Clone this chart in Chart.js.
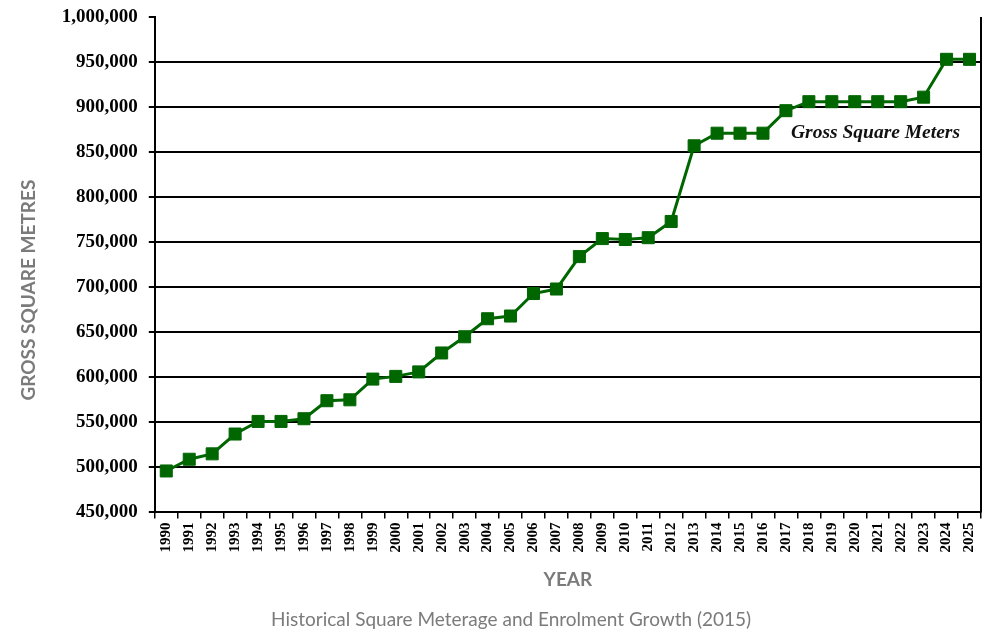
<!DOCTYPE html>
<html>
<head>
<meta charset="utf-8">
<script src="https://cdn.jsdelivr.net/npm/chart.js@4"></script>
<style>
  html, body { margin: 0; padding: 0; background: #fff; overflow: hidden; }
  #wrap { width: 986px; height: 631px; }
  canvas { display: block; }
</style>
</head>
<body>
<div id="wrap"><canvas id="mainChart" width="986" height="631"></canvas></div>
<script>
// Data
const years = [
  "1990", "1991", "1992", "1993", "1994", "1995", "1996", "1997", "1998", "1999",
  "2000", "2001", "2002", "2003", "2004", "2005", "2006", "2007", "2008", "2009",
  "2010", "2011", "2012", "2013", "2014", "2015", "2016", "2017", "2018", "2019",
  "2020", "2021", "2022", "2023", "2024", "2025"
];
const grossSquareMeters = [
  496000, 509000, 515000, 537000, 551000, 551000, 554000, 574000, 575000, 598000,
  601000, 606000, 627000, 645000, 665000, 668000, 693000, 698000, 734000, 754000,
  753000, 755000, 773000, 857000, 871000, 871000, 871000, 896000, 906000, 906000,
  906000, 906000, 906000, 911000, 953000, 953000
];
const seriesLabel = "Gross Square Meters";
const yTitle = "GROSS SQUARE METRES";
const xTitle = "YEAR";
const caption = "Historical Square Meterage and Enrolment Growth (2015)";

const green = "#006600";
const grey = "#7b7b7b";
const nb = (n) => "\u00a0".repeat(n); // nudges titles off-centre like the original

// right frame line + in-plot series label
const framePlugin = {
  id: "frame",
  afterDraw(chart) {
    const { ctx, chartArea } = chart;
    ctx.save();
    ctx.strokeStyle = "#000";
    ctx.lineWidth = 2;
    ctx.beginPath();
    ctx.moveTo(chartArea.right, chartArea.top);
    ctx.lineTo(chartArea.right, chartArea.bottom);
    ctx.stroke();

    ctx.fillStyle = "#111";
    ctx.font = "italic bold 19.5px 'Liberation Serif'";
    ctx.textAlign = "right";
    ctx.textBaseline = "middle";
    ctx.fillText(chart.data.datasets[0].label, chartArea.right - 21, chartArea.top + 116);
    ctx.restore();
  },
};

const config = {
  type: "line",
  data: {
    labels: years,
    datasets: [
      {
        label: seriesLabel,
        data: grossSquareMeters,
        borderColor: green,
        backgroundColor: green,
        borderWidth: 3,
        pointStyle: "rect",
        pointRadius: 8.5,
        pointBorderWidth: 1,
        pointBackgroundColor: green,
        pointBorderColor: green,
        tension: 0,
      },
    ],
  },
  options: {
    responsive: false,
    animation: false,
    layout: { autoPadding: false, padding: { top: 17, right: 5, left: 17, bottom: 0 } },
    plugins: {
      legend: { display: false },
      tooltip: { enabled: false },
      title: {
        display: true,
        position: "bottom",
        text: nb(5) + caption,
        color: grey,
        font: { family: "Lato", size: 19, weight: "normal" },
        padding: { top: 10, bottom: 0 },
      },
    },
    scales: {
      x: {
        offset: true,
        afterFit: (s) => {
          s.paddingRight = 0;
        },
        grid: {
          display: true,
          drawOnChartArea: false,
          offset: true,
          color: "#000",
          lineWidth: 1.5,
          tickLength: 6,
        },
        border: { color: "#000", width: 2 },
        ticks: {
          color: "#000",
          font: { family: "Liberation Serif", size: 15, weight: "bold" },
          maxRotation: 90,
          minRotation: 90,
          autoSkip: false,
          padding: 4,
        },
        title: {
          display: true,
          text: xTitle,
          color: grey,
          font: { family: "Lato", size: 19, weight: "bold" },
          padding: { top: 12, bottom: 7 },
        },
      },
      y: {
        min: 450000,
        max: 1000000,
        afterFit: (s) => {
          s.paddingTop = 0;
        },
        ticks: {
          stepSize: 50000,
          color: "#000",
          font: { family: "Liberation Serif", size: 19, weight: "bold" },
          padding: 11,
          callback: (v) => v.toLocaleString("en-US"),
        },
        grid: {
          color: (c) => (c.tick && c.tick.value === 1000000 ? "rgba(0,0,0,0)" : "#000"),
          tickColor: "#000",
          lineWidth: 2,
          tickLength: 6,
        },
        border: { color: "#000", width: 2 },
        title: {
          display: true,
          text: yTitle + nb(11),
          color: grey,
          font: { family: "Lato", size: 19, weight: "bold" },
          padding: { top: 0, bottom: 11 },
        },
      },
    },
  },
  plugins: [framePlugin],
};

let mainChart = new Chart(document.getElementById("mainChart"), config);
</script>
</body>
</html>
